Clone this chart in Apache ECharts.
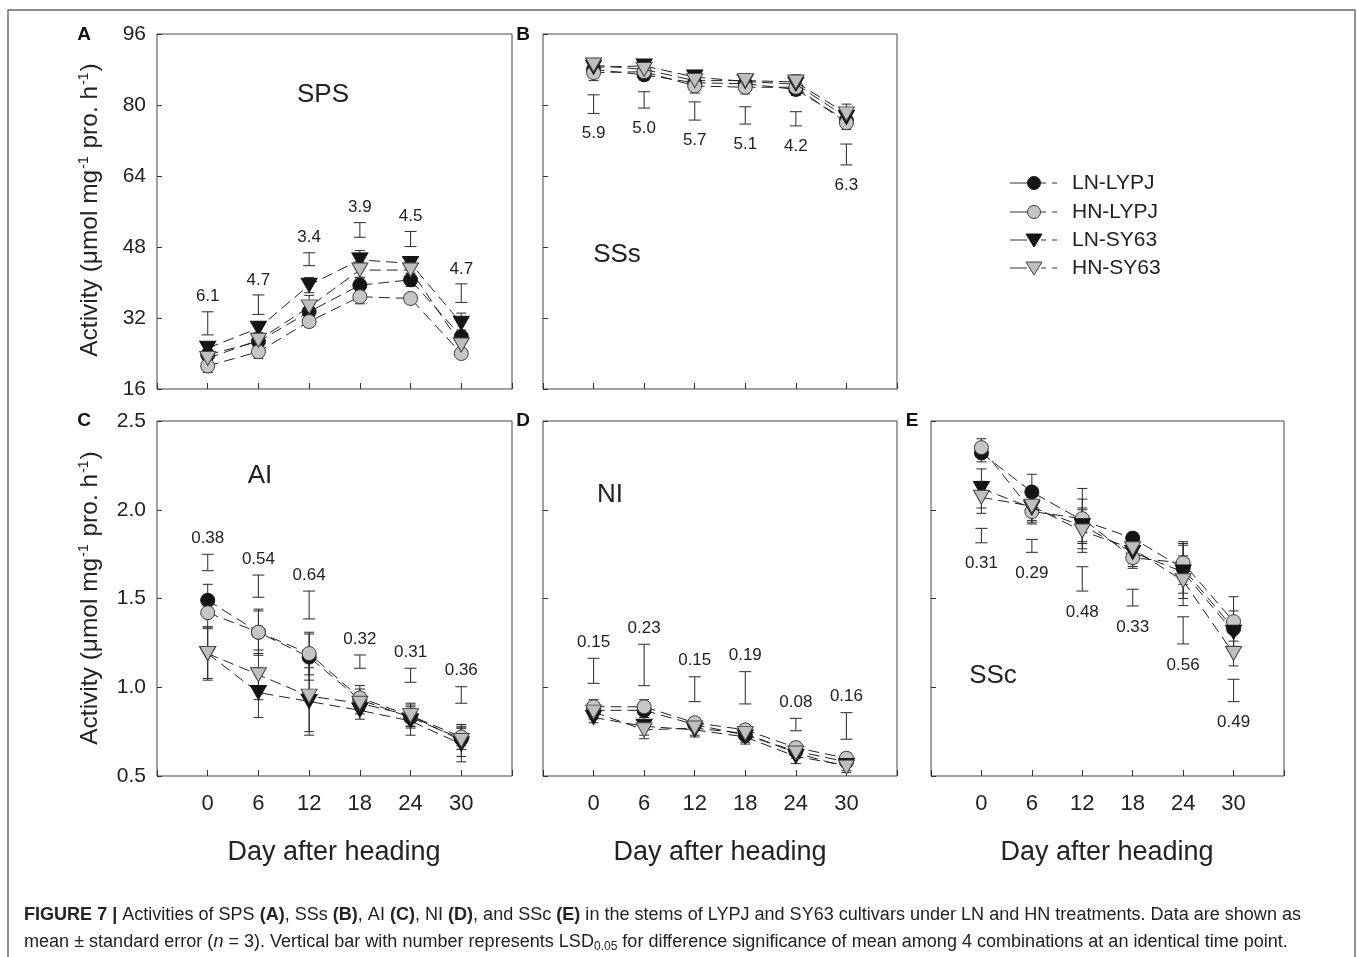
<!DOCTYPE html>
<html><head><meta charset="utf-8">
<script src="https://cdn.jsdelivr.net/npm/echarts@6/dist/echarts.min.js"></script>
<style>html,body{margin:0;padding:0;background:#fff}#c{width:1357px;height:957px}</style>
</head><body><div id="c"></div>
<script>
// ---------- DATA ----------
const days = [0, 6, 12, 18, 24, 30];
const treatments = ['LN-LYPJ', 'HN-LYPJ', 'LN-SY63', 'HN-SY63'];

// A: SPS
const sps_LN_LYPJ = [23.7, 26.7, 33.4, 39.4, 40.6, 27.8];
const sps_HN_LYPJ = [21.2, 24.4, 31.2, 36.8, 36.4, 24.0];
const sps_LN_SY63 = [25.2, 29.7, 39.4, 45.1, 44.3, 30.8];
const sps_HN_SY63 = [22.9, 27.0, 34.5, 42.8, 42.8, 25.9];
const sps_LN_LYPJ_se = [1.2, 1.5, 1.5, 1.8, 1.5, 1.5];
const sps_HN_LYPJ_se = [1.5, 1.5, 1.2, 1.6, 1.0, 1.0];
const sps_LN_SY63_se = [1.1, 1.0, 1.7, 2.1, 1.0, 2.3];
const sps_HN_SY63_se = [1.5, 1.5, 2.6, 1.8, 1.5, 1.5];
const spsLsd = ['6.1', '4.7', '3.4', '3.9', '4.5', '4.7'];
const spsLsdLo = [28.2, 32.8, 43.8, 50.2, 48.1, 35.5];
const spsLsdHi = [33.4, 37.2, 46.7, 53.5, 51.5, 39.7];

// B: SSs
const ss_LN_LYPJ = [88.0, 86.8, 85.0, 84.8, 83.5, 76.5];
const ss_HN_LYPJ = [87.3, 87.5, 84.3, 84.0, 84.0, 76.0];
const ss_LN_SY63 = [88.5, 88.8, 86.3, 85.3, 84.7, 77.2];
const ss_HN_SY63 = [89.0, 88.0, 85.5, 85.5, 85.2, 78.0];
const ss_LN_LYPJ_se = [1.5, 1.2, 1.5, 1.3, 1.3, 1.5];
const ss_HN_LYPJ_se = [1.8, 1.2, 1.6, 1.5, 1.4, 1.5];
const ss_LN_SY63_se = [1.3, 1.0, 1.5, 1.4, 1.5, 1.6];
const ss_HN_SY63_se = [1.5, 1.2, 1.4, 1.6, 1.6, 2.2];
const ssLsd = ['5.9', '5.0', '5.7', '5.1', '4.2', '6.3'];
const ssLsdLo = [78.1, 79.3, 76.6, 75.7, 75.3, 66.5];
const ssLsdHi = [82.3, 83.0, 80.7, 79.6, 78.5, 71.2];

// C: AI
const ai_LN_LYPJ = [1.49, 1.31, 1.17, 0.93, 0.83, 0.71];
const ai_HN_LYPJ = [1.42, 1.31, 1.19, 0.94, 0.84, 0.72];
const ai_LN_SY63 = [1.19, 0.97, 0.92, 0.87, 0.81, 0.68];
const ai_HN_SY63 = [1.19, 1.07, 0.95, 0.91, 0.84, 0.70];
const ai_LN_LYPJ_se = [0.09, 0.12, 0.13, 0.06, 0.05, 0.06];
const ai_HN_LYPJ_se = [0.08, 0.13, 0.12, 0.07, 0.06, 0.05];
const ai_LN_SY63_se = [0.15, 0.14, 0.19, 0.05, 0.08, 0.10];
const ai_HN_SY63_se = [0.14, 0.14, 0.20, 0.06, 0.07, 0.09];
const aiLsd = ['0.38', '0.54', '0.64', '0.32', '0.31', '0.36'];
const aiLsdLo = [1.657, 1.507, 1.385, 1.107, 1.028, 0.910];
const aiLsdHi = [1.749, 1.632, 1.542, 1.182, 1.107, 1.003];

// D: NI
const ni_LN_LYPJ = [0.87, 0.87, 0.79, 0.73, 0.64, 0.58];
const ni_HN_LYPJ = [0.89, 0.89, 0.80, 0.76, 0.66, 0.60];
const ni_LN_SY63 = [0.83, 0.78, 0.76, 0.72, 0.61, 0.56];
const ni_HN_SY63 = [0.86, 0.76, 0.77, 0.74, 0.63, 0.55];
const ni_LN_LYPJ_se = [0.04, 0.04, 0.03, 0.04, 0.03, 0.03];
const ni_HN_LYPJ_se = [0.04, 0.04, 0.03, 0.03, 0.03, 0.03];
const ni_LN_SY63_se = [0.03, 0.05, 0.04, 0.04, 0.04, 0.03];
const ni_HN_SY63_se = [0.04, 0.05, 0.04, 0.03, 0.03, 0.03];
const niLsd = ['0.15', '0.23', '0.15', '0.19', '0.08', '0.16'];
const niLsdLo = [1.022, 1.009, 0.919, 0.906, 0.755, 0.707];
const niLsdHi = [1.163, 1.242, 1.059, 1.088, 0.825, 0.857];

// E: SSc
const ssc_LN_LYPJ = [2.32, 2.10, 1.94, 1.84, 1.67, 1.33];
const ssc_HN_LYPJ = [2.35, 1.99, 1.95, 1.73, 1.70, 1.37];
const ssc_LN_SY63 = [2.12, 2.01, 1.91, 1.76, 1.65, 1.31];
const ssc_HN_SY63 = [2.07, 2.02, 1.88, 1.78, 1.60, 1.19];
const ssc_LN_LYPJ_se = [0.05, 0.10, 0.12, 0.03, 0.14, 0.10];
const ssc_HN_LYPJ_se = [0.05, 0.06, 0.17, 0.06, 0.12, 0.14];
const ssc_LN_SY63_se = [0.11, 0.09, 0.10, 0.08, 0.15, 0.08];
const ssc_HN_SY63_se = [0.09, 0.08, 0.12, 0.08, 0.14, 0.07];
const sscLsd = ['0.31', '0.29', '0.48', '0.33', '0.56', '0.49'];
const sscLsdLo = [1.814, 1.760, 1.542, 1.458, 1.244, 0.919];
const sscLsdHi = [1.895, 1.833, 1.679, 1.552, 1.397, 1.045];

const xTicks = [0, 6, 12, 18, 24, 30];
const yTicksTop = [16, 32, 48, 64, 80, 96];
const yTicksBottom = [0.5, 1.0, 1.5, 2.0, 2.5];

// ---------- LAYOUT / STYLE ----------
const FONT = "'Liberation Sans', Arial, Helvetica, sans-serif";
const TXT = '#222';
const panels = [
  { grid: { left: 157, top: 34, width: 355, height: 355 }, y: yTicksTop, labels: false, ylabels: true,
    vals: [sps_LN_LYPJ, sps_HN_LYPJ, sps_LN_SY63, sps_HN_SY63], se: [sps_LN_LYPJ_se, sps_HN_LYPJ_se, sps_LN_SY63_se, sps_HN_SY63_se],
    lsd: spsLsd, lo: spsLsdLo, hi: spsLsdHi, below: false, gap: 15 },
  { grid: { left: 543, top: 34, width: 354, height: 355 }, y: yTicksTop, labels: false, ylabels: false,
    vals: [ss_LN_LYPJ, ss_HN_LYPJ, ss_LN_SY63, ss_HN_SY63], se: [ss_LN_LYPJ_se, ss_HN_LYPJ_se, ss_LN_SY63_se, ss_HN_SY63_se],
    lsd: ssLsd, lo: ssLsdLo, hi: ssLsdHi, below: true, gap: 20 },
  { grid: { left: 157, top: 421, width: 355, height: 355 }, y: yTicksBottom, labels: true, ylabels: true,
    vals: [ai_LN_LYPJ, ai_HN_LYPJ, ai_LN_SY63, ai_HN_SY63], se: [ai_LN_LYPJ_se, ai_HN_LYPJ_se, ai_LN_SY63_se, ai_HN_SY63_se],
    lsd: aiLsd, lo: aiLsdLo, hi: aiLsdHi, below: false, gap: 16 },
  { grid: { left: 543, top: 421, width: 354, height: 355 }, y: yTicksBottom, labels: true, ylabels: false,
    vals: [ni_LN_LYPJ, ni_HN_LYPJ, ni_LN_SY63, ni_HN_SY63], se: [ni_LN_LYPJ_se, ni_HN_LYPJ_se, ni_LN_SY63_se, ni_HN_SY63_se],
    lsd: niLsd, lo: niLsdLo, hi: niLsdHi, below: false, gap: 16 },
  { grid: { left: 931, top: 421, width: 353, height: 355 }, y: yTicksBottom, labels: true, ylabels: false,
    vals: [ssc_LN_LYPJ, ssc_HN_LYPJ, ssc_LN_SY63, ssc_HN_SY63], se: [ssc_LN_LYPJ_se, ssc_HN_LYPJ_se, ssc_LN_SY63_se, ssc_HN_SY63_se],
    lsd: sscLsd, lo: sscLsdLo, hi: sscLsdHi, below: true, gap: 21 }
];
const mk = [
  { symbol: 'circle', size: 14, rotate: 0, fill: '#141414', border: '#141414' },
  { symbol: 'circle', size: 14, rotate: 0, fill: '#c6c6c6', border: '#3a3a3a' },
  { symbol: 'triangle', size: [16, 14], rotate: 180, fill: '#141414', border: '#141414' },
  { symbol: 'triangle', size: [16, 14], rotate: 180, fill: '#bebebe', border: '#444' }
];

function errRender(params, api) {
  const x = api.value(0), lo = api.value(1), hi = api.value(2);
  const a = api.coord([x, lo]), b = api.coord([x, hi]);
  const w = 5, st = { stroke: '#2a2a2a', lineWidth: 1 };
  return { type: 'group', children: [
    { type: 'line', shape: { x1: a[0], y1: a[1], x2: b[0], y2: b[1] }, style: st },
    { type: 'line', shape: { x1: a[0] - w, y1: a[1], x2: a[0] + w, y2: a[1] }, style: st },
    { type: 'line', shape: { x1: b[0] - w, y1: b[1], x2: b[0] + w, y2: b[1] }, style: st }
  ] };
}
function lsdRenderFactory(p) {
  return function (params, api) {
    const x = api.value(0), lo = api.value(1), hi = api.value(2);
    const a = api.coord([x, lo]), b = api.coord([x, hi]);
    const w = 6, st = { stroke: '#3a3a3a', lineWidth: 1.1 };
    const ty = p.below ? a[1] + p.gap : b[1] - p.gap;
    return { type: 'group', children: [
      { type: 'line', shape: { x1: a[0], y1: a[1], x2: b[0], y2: b[1] }, style: st },
      { type: 'line', shape: { x1: a[0] - w, y1: a[1], x2: a[0] + w, y2: a[1] }, style: st },
      { type: 'line', shape: { x1: b[0] - w, y1: b[1], x2: b[0] + w, y2: b[1] }, style: st },
      { type: 'text', style: { text: p.lsd[params.dataIndex], x: a[0], y: ty, align: 'center', verticalAlign: 'middle',
        fontSize: 17, fontFamily: FONT, fill: TXT } }
    ] };
  };
}

const grid = [], xAxis = [], yAxis = [], series = [];
panels.forEach((p, gi) => {
  grid.push(Object.assign({ show: true, borderColor: '#444', borderWidth: 1, backgroundColor: 'transparent' }, p.grid));
  xAxis.push({
    type: 'value', gridIndex: gi, min: -6, max: 36, interval: 6, position: 'bottom',
    axisLine: { show: false, onZero: false }, splitLine: { show: false },
    axisTick: { show: true, inside: true, length: 6, lineStyle: { color: '#333', width: 1 } },
    axisLabel: { show: p.labels, fontSize: 22, color: TXT, fontFamily: FONT, margin: 17,
      formatter: v => xTicks.indexOf(v) >= 0 ? String(v) : '' }
  });
  const yMin = p.y[0], yMax = p.y[p.y.length - 1], yInt = p.y[1] - p.y[0];
  yAxis.push({
    type: 'value', gridIndex: gi, min: yMin, max: yMax, interval: yInt, position: 'left',
    axisLine: { show: false, onZero: false }, splitLine: { show: false },
    axisTick: { show: true, inside: true, length: 5, lineStyle: { color: '#333', width: 1 } },
    axisLabel: { show: p.ylabels, fontSize: 21, color: TXT, fontFamily: FONT, margin: 11,
      formatter: v => (yInt < 1 ? v.toFixed(1) : String(v)) }
  });
  // LSD bars
  series.push({
    type: 'custom', xAxisIndex: gi, yAxisIndex: gi, z: 2, silent: true,
    renderItem: lsdRenderFactory(p), encode: { x: 0, y: [1, 2] },
    data: days.map((d, i) => [d, p.lo[i], p.hi[i]])
  });
  // error bars
  p.vals.forEach((arr, ti) => {
    series.push({
      type: 'custom', xAxisIndex: gi, yAxisIndex: gi, z: 2, silent: true,
      renderItem: errRender, encode: { x: 0, y: [1, 2] },
      data: days.map((d, i) => [d, arr[i] - p.se[ti][i], arr[i] + p.se[ti][i]])
    });
  });
  // lines with markers
  p.vals.forEach((arr, ti) => {
    const m = mk[ti];
    series.push({
      type: 'line', name: treatments[ti], xAxisIndex: gi, yAxisIndex: gi, z: 3 + ti, silent: true,
      data: days.map((d, i) => [d, arr[i]]),
      symbol: m.symbol, symbolSize: m.size, symbolRotate: m.rotate, showSymbol: true,
      lineStyle: { type: [11, 6], width: 1, color: '#222' },
      itemStyle: { color: m.fill, borderColor: m.border, borderWidth: 1, opacity: 1 },
      emphasis: { disabled: true }
    });
  });
});

// ---------- graphics: texts, legend, frame, caption ----------
const graphics = [];
graphics.push({ type: 'rect', shape: { x: 8, y: 10, width: 1347, height: 980 }, style: { fill: 'none', stroke: '#666', lineWidth: 1.4 }, z: 0 });
const letters = [['A', 84, 35], ['B', 523, 35], ['C', 84, 421], ['D', 523, 421], ['E', 912, 421]];
letters.forEach(l => graphics.push({ type: 'text', x: l[1], y: l[2], style: { text: l[0], fontSize: 19, fontWeight: 'bold', fontFamily: FONT, fill: '#111', align: 'center', verticalAlign: 'middle' } }));
const ptitles = [['SPS', 323, 95], ['SSs', 617, 255], ['AI', 260, 476], ['NI', 610, 495], ['SSc', 993, 676]];
ptitles.forEach(t => graphics.push({ type: 'text', x: t[1], y: t[2], style: { text: t[0], fontSize: 26, fontFamily: FONT, fill: TXT, align: 'center', verticalAlign: 'middle' } }));
const xTitles = [[334, 853], [720, 853], [1107, 853]];
xTitles.forEach(t => graphics.push({ type: 'text', x: t[0], y: t[1], style: { text: 'Day after heading', fontSize: 27, fontFamily: FONT, fill: TXT, align: 'center', verticalAlign: 'middle' } }));
const yTitles = [[90, 210], [90, 598]];
yTitles.forEach(t => graphics.push({ type: 'text', x: t[0], y: t[1], rotation: Math.PI / 2,
  style: { text: 'Activity (μmol mg{sup|-1} pro. h{sup|-1})', fontSize: 24.5, fontFamily: FONT, fill: TXT, align: 'center', verticalAlign: 'middle',
    rich: { sup: { fontSize: 14, fontFamily: FONT, fill: TXT, verticalAlign: 'top', padding: [0, 1, 0, 1] } } } }));

// legend
const legY = [183, 212, 240, 268];
treatments.forEach((name, i) => {
  const y = legY[i], m = mk[i];
  graphics.push({ type: 'line', shape: { x1: 1010, y1: y, x2: 1027, y2: y }, style: { stroke: '#333', lineWidth: 1 } });
  graphics.push({ type: 'line', shape: { x1: 1041, y1: y, x2: 1061, y2: y }, style: { stroke: '#333', lineWidth: 1, lineDash: [5, 6] } });
  if (m.symbol === 'circle') {
    graphics.push({ type: 'circle', shape: { cx: 1034, cy: y, r: 6.5 }, style: { fill: m.fill, stroke: m.border, lineWidth: 1 } });
  } else {
    graphics.push({ type: 'polygon', shape: { points: [[1026, y - 6], [1042, y - 6], [1034, y + 7]] }, style: { fill: m.fill, stroke: m.border, lineWidth: 1 } });
  }
  graphics.push({ type: 'text', x: 1072, y: y, style: { text: name, fontSize: 21, fontFamily: FONT, fill: TXT, align: 'left', verticalAlign: 'middle' } });
});

// caption
const cap1 = '{b|FIGURE 7 |} Activities of SPS {b|(A)}, SSs {b|(B)}, AI {b|(C)}, NI {b|(D)}, and SSc {b|(E)} in the stems of LYPJ and SY63 cultivars under LN and HN treatments. Data are shown as';
const cap2 = 'mean ± standard error ({i|n} = 3). Vertical bar with number represents LSD{sub|0.05} for difference significance of mean among 4 combinations at an identical time point.';
const CAPSIZE = 18;
const mctx = document.createElement('canvas').getContext('2d');
function segW(s, f) { mctx.font = f; return mctx.measureText(s).width; }
function fontFor(k) {
  if (k === 'b') return 'bold ' + CAPSIZE + 'px ' + FONT;
  if (k === 'i') return 'italic ' + CAPSIZE + 'px ' + FONT;
  if (k === 'sub') return '12px ' + FONT;
  return CAPSIZE + 'px ' + FONT;
}
function richWidth(str) {
  const re = /\{(\w+)\|([^}]*)\}/g; let w = 0, last = 0, m;
  while ((m = re.exec(str))) { w += segW(str.slice(last, m.index), fontFor('')); w += segW(m[2], fontFor(m[1])); last = re.lastIndex; }
  return w + segW(str.slice(last), fontFor(''));
}
const capScale = 1277 / richWidth(cap1);
const capRich = {
  b: { fontWeight: 'bold', fontSize: CAPSIZE, fontFamily: FONT, fill: TXT },
  i: { fontStyle: 'italic', fontSize: CAPSIZE, fontFamily: FONT, fill: TXT },
  sub: { fontSize: 12, fontFamily: FONT, fill: TXT, verticalAlign: 'bottom', padding: [10, 0, 0, 0] }
};
[[cap1, 915], [cap2, 942]].forEach(c => graphics.push({ type: 'text', x: 24, y: c[1], scaleX: capScale,
  style: { text: c[0], fontSize: CAPSIZE, fontFamily: FONT, fill: TXT, align: 'left', verticalAlign: 'middle', rich: capRich } }));

const chart = echarts.init(document.getElementById('c'), null, { renderer: 'canvas' });
chart.setOption({
  animation: false,
  backgroundColor: '#fff',
  textStyle: { fontFamily: FONT },
  grid, xAxis, yAxis, series,
  graphic: { elements: graphics }
});
</script></body></html>
